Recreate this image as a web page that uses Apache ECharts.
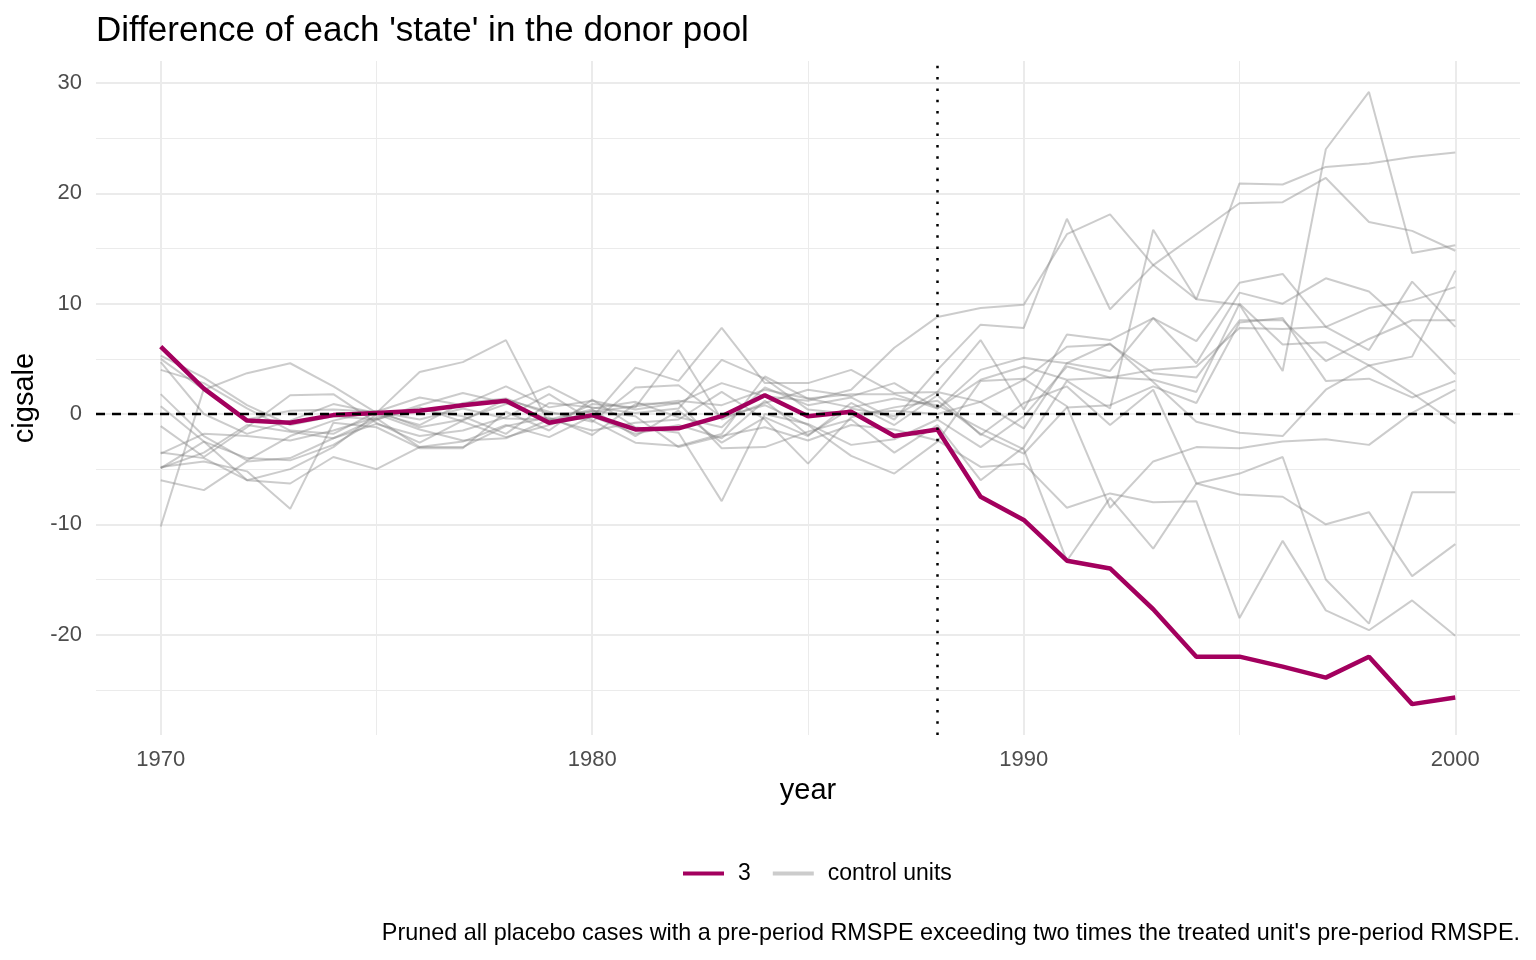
<!DOCTYPE html>
<html>
<head>
<meta charset="utf-8">
<title>Difference of each 'state' in the donor pool</title>
<script src="https://cdn.jsdelivr.net/npm/echarts@6.0.0/dist/echarts.min.js"></script>
<style>
  html, body { margin: 0; padding: 0; background: #fff; }
  #chart { width: 1536px; height: 960px; }
</style>
</head>
<body>
<div id="chart"></div>
<script>
// years on the x axis
var years = [1970, 1971, 1972, 1973, 1974, 1975, 1976, 1977, 1978, 1979,
             1980, 1981, 1982, 1983, 1984, 1985, 1986, 1987, 1988, 1989,
             1990, 1991, 1992, 1993, 1994, 1995, 1996, 1997, 1998, 1999, 2000];

// treated unit (3)
var treated = [6.1, 2.3, -0.6, -0.8, -0.1, 0.1, 0.3, 0.8, 1.2, -0.8,
               -0.1, -1.4, -1.3, -0.2, 1.7, -0.2, 0.2, -2.0, -1.4, -7.5,
               -9.6, -13.3, -14.0, -17.7, -22.0, -22.0, -22.9, -23.9, -22.0, -26.3, -25.7];

// control units (placebos)
var control01 = [4.0, 2.8, 0.5, -1.5, -1.8, 0.2, 1.5, 0.8, 2.5, 0.6,
                 1.2, 0.4, 1.0, 2.8, 1.6, 1.2, 2.2, 6.0, 8.8, 9.6,
                 9.9, 16.3, 18.1, 13.5, 10.4, 20.9, 20.8, 22.4, 22.7, 23.3, 23.7];
var control02 = [1.8, -2.0, -4.2, -2.0, -0.6, 0.3, -1.2, -0.5, 0.9, 2.5,
                 0.5, 1.1, -0.3, -1.2, 2.4, 0.8, 1.5, -0.5, 4.0, 8.1,
                 7.8, 17.7, 9.5, 13.5, 16.3, 19.1, 19.2, 21.4, 17.4, 16.6, 14.8];
var control03 = [-4.9, -3.5, -1.0, -1.6, -2.2, -0.4, -3.0, -3.0, -1.1, -0.3,
                 -1.9, 0.9, 1.0, -3.1, -3.0, -1.6, -0.5, -3.5, -1.0, -6.0,
                 -3.0, 3.0, 0.5, 16.7, 10.4, 9.9, 3.9, 24.0, 29.2, 14.6, 15.3];
var control04 = [-4.9, -2.5, -4.0, -4.2, -2.8, -0.5, 0.6, -0.7, -2.1, -1.0,
                 0.3, -0.2, -3.0, -2.0, -1.2, -2.4, -1.0, -1.4, -2.4, -4.8,
                 -4.5, -8.5, -7.2, -8.0, -7.9, -18.5, -11.5, -17.8, -19.6, -16.9, -20.1];
var control05 = [-6.0, -6.9, -4.3, -4.0, -2.2, -0.9, -2.0, -1.5, -0.3, 1.8,
                 -0.6, -2.6, -2.9, -1.8, 3.4, 1.4, 0.6, 1.4, 0.8, -1.3,
                 -3.2, -13.3, -7.6, -12.2, -6.3, -5.4, -3.9, -15.0, -19.0, -7.1, -7.1];
var control06 = [0.7, -2.5, -6.0, -5.0, -3.0, 0.0, -1.4, -2.4, -2.2, -0.5,
                 0.4, -2.0, 0.3, -2.6, -0.3, -2.0, 1.0, -1.0, 1.7, -1.9,
                 1.0, 2.5, -1.0, 2.2, -6.3, -7.3, -7.5, -10.0, -8.9, -14.7, -11.8];
var control07 = [-1.1, -3.9, -1.2, 1.7, 1.8, -0.8, -2.6, -0.6, 1.3, 0.2,
                 -0.7, 2.4, 2.6, -0.3, 0.8, -1.0, -3.8, -5.4, -2.5, 3.0,
                 3.2, 0.7, -8.5, -4.3, -3.0, -3.1, -2.5, -2.3, -2.8, 0.1, 2.2];
var control08 = [5.3, 3.3, 0.8, -1.0, -0.2, -0.5, 0.8, 1.9, 1.0, -0.5,
                 -0.3, 4.2, 3.0, 7.8, 2.8, 2.8, 4.0, 1.9, 2.0, 6.7,
                 0.4, 7.2, 6.7, 8.7, 6.6, 11.9, 12.7, 7.9, 5.8, 12.0, 7.9];
var control09 = [5.0, 2.2, 3.7, 4.6, 2.5, 0.1, 3.8, 4.7, 6.7, -0.9,
                 0.9, 0.6, 5.8, -0.5, 1.0, 2.2, 1.6, 2.8, 0.5, 4.0,
                 5.1, 4.6, 3.9, 8.7, 4.6, 11.0, 10.0, 12.3, 11.1, 7.6, 3.6];
var control10 = [4.7, 0.0, -1.8, -0.6, 0.9, 0.1, -1.0, 1.0, 1.4, 0.0,
                 0.2, 0.7, 1.2, 0.8, 2.2, 1.4, 1.8, 1.8, 0.5, 3.1,
                 4.3, 3.1, 3.3, 4.0, 4.3, 7.8, 7.7, 7.9, 9.6, 10.3, 11.5];
var control11 = [-3.6, -1.8, -2.0, -2.4, -1.5, -0.3, 0.4, -0.2, -1.8, 1.0,
                 0.6, 0.1, 0.5, 4.9, 3.2, 0.4, 0.0, 0.3, 0.0, 1.1,
                 3.1, 6.1, 6.3, 3.7, 3.3, 8.5, 8.5, 4.8, 6.8, 8.5, 8.5];
var control12 = [-4.8, -4.3, -5.2, -8.6, -0.8, -1.2, -3.1, -3.1, 0.2, -1.5,
                 1.3, -1.2, -1.7, -7.9, 0.0, -0.9, -2.8, -2.3, -0.5, -3.0,
                 -0.2, 4.3, 3.3, 3.1, 2.0, 10.0, 6.3, 6.5, 4.4, 1.9, -0.85];
var control13 = [-3.5, -4.0, -6.0, -6.3, -3.9, -5.0, -3.0, -2.5, -1.0, -2.1,
                 -0.2, -1.8, -1.0, -2.2, 1.2, -1.9, 0.5, -0.2, 2.0, 1.1,
                 -1.3, 4.6, 6.4, 2.9, -0.7, -1.7, -2.0, 2.2, 4.4, 5.2, 13.0];
var control14 = [-10.2, 2.3, -0.5, 0.3, 0.4, 0.2, -0.5, 0.5, -0.4, -0.5,
                 -1.5, -0.8, -0.5, 2.0, -0.5, -4.5, -0.3, 0.6, 1.2, -1.8,
                 -3.6, 0.6, 0.8, 2.5, 1.0, 8.3, 8.7, 3.0, 3.2, 1.5, 3.0];

var controls = [control01, control02, control03, control04, control05, control06, control07,
                control08, control09, control10, control11, control12, control13, control14];

// axis ticks and reference lines
var xTicks = [1970, 1980, 1990, 2000];
var xMinor = [1975, 1985, 1995];
var yTicks = [-20, -10, 0, 10, 20, 30];
var yMinor = [-25, -15, -5, 5, 15, 25];
var treatYear = 1988;

var treatedName = '3';
var controlName = 'control units';

function pairs(values) {
    return years.map(function (y, i) { return [y, values[i]]; });
}

var gridLines = []
    .concat(xTicks.map(function (v) { return { xAxis: v, lineStyle: { width: 2 } }; }))
    .concat(xMinor.map(function (v) { return { xAxis: v, lineStyle: { width: 1 } }; }))
    .concat(yTicks.map(function (v) { return { yAxis: v, lineStyle: { width: 2 } }; }))
    .concat(yMinor.map(function (v) { return { yAxis: v, lineStyle: { width: 1 } }; }));

var series = [{
    type: 'line',
    name: 'grid',
    data: [],
    silent: true,
    markLine: {
        z: 0,
        silent: true,
        symbol: 'none',
        label: { show: false },
        lineStyle: { color: '#ebebeb', type: 'solid' },
        data: gridLines
    }
}];

controls.forEach(function (c) {
    series.push({
        type: 'line',
        name: controlName,
        data: pairs(c),
        showSymbol: false,
        symbol: 'none',
        z: 2,
        lineStyle: { color: 'rgba(128,128,128,0.4)', width: 2 },
        itemStyle: { color: 'rgba(128,128,128,0.4)' },
        emphasis: { disabled: true }
    });
});

series.push({
    type: 'line',
    name: treatedName,
    data: pairs(treated),
    showSymbol: false,
    symbol: 'none',
    z: 3,
    lineStyle: { color: '#a3005e', width: 4.5 },
    itemStyle: { color: '#a3005e' },
    emphasis: { disabled: true },
    markLine: {
        z: 6,
        silent: true,
        symbol: 'none',
        label: { show: false },
        data: [
            { yAxis: 0, lineStyle: { color: '#000', width: 2.3, type: [9, 7] } },
            { xAxis: treatYear, lineStyle: { color: '#000', width: 2.5, type: [2.5, 8.8] } }
        ]
    }
});

var chart = echarts.init(document.getElementById('chart'), null, { renderer: 'canvas' });
chart.setOption({
    animation: false,
    backgroundColor: '#fff',
    textStyle: { fontFamily: 'Liberation Sans, Arial, sans-serif' },
    title: [{
        text: "Difference of each 'state' in the donor pool",
        left: 91,
        top: 9,
        textStyle: { fontSize: 35, fontWeight: 'normal', color: '#000' }
    }, {
        text: "Pruned all placebo cases with a pre-period RMSPE exceeding two times the treated unit's pre-period RMSPE.",
        right: 11,
        top: 917,
        textStyle: { fontSize: 23.4, fontWeight: 'normal', color: '#000' }
    }],
    legend: {
        left: 683,
        top: 862,
        padding: 0,
        itemWidth: 41,
        itemHeight: 4,
        itemGap: 22,
        icon: 'rect',
        textStyle: { fontSize: 23, color: '#000', padding: [0, 0, 0, 9] },
        data: [
            { name: treatedName, itemStyle: { color: '#a3005e' } },
            { name: controlName, itemStyle: { color: '#cccccc' } }
        ]
    },
    grid: { left: 96, right: 16, top: 61, bottom: 225, containLabel: false },
    xAxis: {
        type: 'value',
        min: 1968.5,
        max: 2001.5,
        name: 'year',
        nameLocation: 'middle',
        nameGap: 41,
        nameTextStyle: { fontSize: 29, color: '#000' },
        axisLine: { show: false },
        axisTick: { show: false },
        splitLine: { show: false },
        axisLabel: {
            customValues: xTicks, fontSize: 22, color: '#4d4d4d', margin: 14,
            formatter: function (v) { return String(v); }
        }
    },
    yAxis: {
        type: 'value',
        min: -29.1,
        max: 32,
        name: 'cigsale',
        nameLocation: 'middle',
        nameGap: 51,
        nameTextStyle: { fontSize: 29, color: '#000' },
        axisLine: { show: false },
        axisTick: { show: false },
        splitLine: { show: false },
        axisLabel: {
            customValues: yTicks, fontSize: 22, color: '#4d4d4d', margin: 14,
            formatter: function (v) { return String(v); }
        }
    },
    series: series
});
</script>
</body>
</html>
